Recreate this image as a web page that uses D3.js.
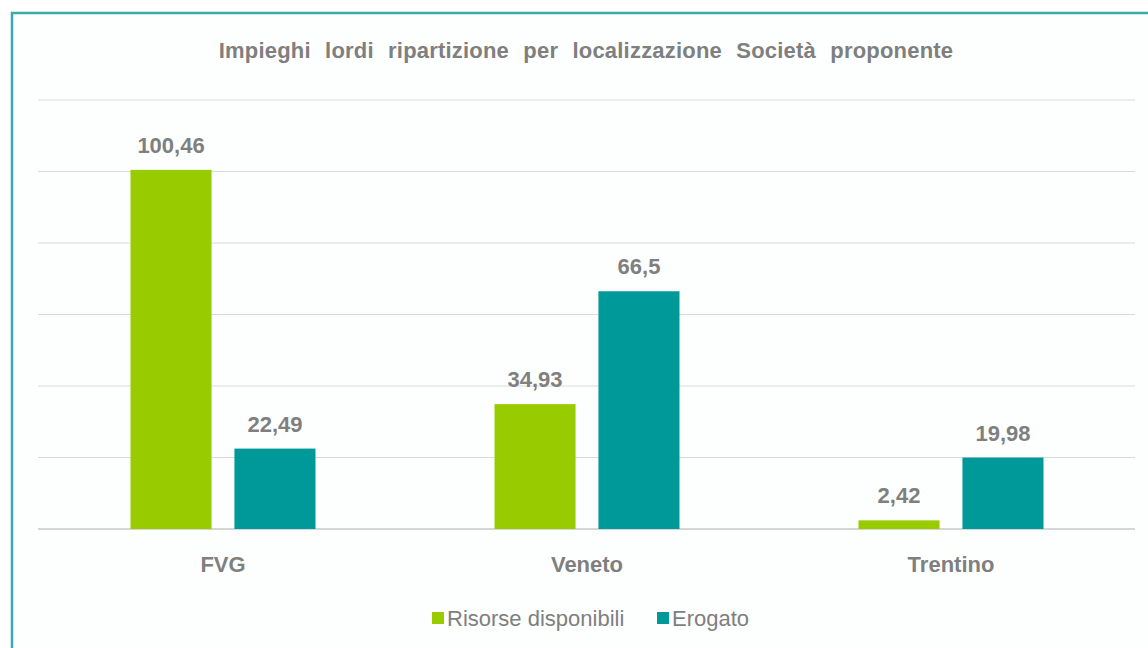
<!DOCTYPE html>
<html>
<head>
<meta charset="utf-8">
<script src="https://cdn.jsdelivr.net/npm/d3@7"></script>
<style>
  body { margin: 0; background: #ffffff; }
  svg text { font-family: "Liberation Sans", Arial, sans-serif; fill: #7f7f7f; }
</style>
</head>
<body>
<svg id="chart" width="1148" height="648"></svg>
<script>
var categories = ["FVG", "Veneto", "Trentino"];
var seriesNames = ["Risorse disponibili", "Erogato"];
var risorse = [100.46, 34.93, 2.42];
var erogato = [22.49, 66.5, 19.98];
var valueLabels = [["100,46", "34,93", "2,42"], ["22,49", "66,5", "19,98"]];
var yTicks = [0, 20, 40, 60, 80, 100, 120];
var chartTitle = "Impieghi lordi ripartizione per localizzazione Società proponente";

var colors = ["#99cc00", "#009999"];

var svg = d3.select("#chart");

// frame
svg.append("rect")
    .attr("x", 12).attr("y", 13)
    .attr("width", 1160).attr("height", 660)
    .attr("fill", "#fdfefe")
    .attr("stroke", "#3aabab")
    .attr("stroke-width", 2.5);

svg.append("text")
    .attr("x", 586).attr("y", 58)
    .attr("text-anchor", "middle")
    .style("font-weight", "bold")
    .style("font-size", "22px")
    .style("word-spacing", "8px")
    .style("letter-spacing", "0.2px")
    .text(chartTitle);

var plot = {left: 41, right: 1133, top: 100, bottom: 529};

var x0 = d3.scaleBand()
    .domain(categories)
    .range([plot.left, plot.right])
    .padding(0);

var half = 92.5;
var x1 = d3.scaleBand()
    .domain(seriesNames)
    .range([x0.bandwidth() / 2 - half, x0.bandwidth() / 2 + half])
    .paddingInner(0.22);

var y = d3.scaleLinear()
    .domain([0, 120])
    .range([plot.bottom, plot.top]);

// gridlines
svg.append("g")
    .selectAll("line")
    .data(yTicks)
    .enter()
    .append("line")
    .attr("x1", 38).attr("x2", 1135)
    .attr("y1", d => y(d)).attr("y2", d => y(d))
    .attr("stroke", d => d === 0 ? "#c8c8c8" : "#d9d9d9")
    .attr("stroke-width", d => d === 0 ? 1.5 : 1.2);

var rows = categories.map((c, i) => ({
    cat: c,
    vals: [
        {s: seriesNames[0], v: risorse[i], label: valueLabels[0][i], color: colors[0]},
        {s: seriesNames[1], v: erogato[i], label: valueLabels[1][i], color: colors[1]}
    ]
}));

var groups = svg.append("g")
    .selectAll("g")
    .data(rows)
    .enter()
    .append("g")
    .attr("transform", d => `translate(${x0(d.cat)},0)`);

groups.selectAll("rect")
    .data(d => d.vals)
    .enter()
    .append("rect")
    .attr("x", d => x1(d.s))
    .attr("width", x1.bandwidth())
    .attr("y", d => y(d.v))
    .attr("height", d => y(0) - y(d.v))
    .attr("fill", d => d.color);

groups.selectAll("text.val")
    .data(d => d.vals)
    .enter()
    .append("text")
    .attr("class", "val")
    .attr("x", d => x1(d.s) + x1.bandwidth() / 2)
    .attr("y", d => y(d.v) - 17)
    .attr("text-anchor", "middle")
    .style("font-weight", "bold")
    .style("font-size", "22px")
    .text(d => d.label);

// category axis labels
svg.append("g")
    .selectAll("text")
    .data(categories)
    .enter()
    .append("text")
    .attr("x", d => x0(d) + x0.bandwidth() / 2)
    .attr("y", 572)
    .attr("text-anchor", "middle")
    .style("font-weight", "bold")
    .style("font-size", "22px")
    .text(d => d);

// legend
var legendX = [432, 657];
var legend = svg.append("g")
    .selectAll("g")
    .data(seriesNames)
    .enter()
    .append("g")
    .attr("transform", (d, i) => `translate(${legendX[i]},612)`);

legend.append("rect")
    .attr("width", 12).attr("height", 12)
    .attr("fill", (d, i) => colors[i]);

legend.append("text")
    .attr("x", 15).attr("y", 14)
    .style("font-size", "22px")
    .text(d => d);
</script>
</body>
</html>
